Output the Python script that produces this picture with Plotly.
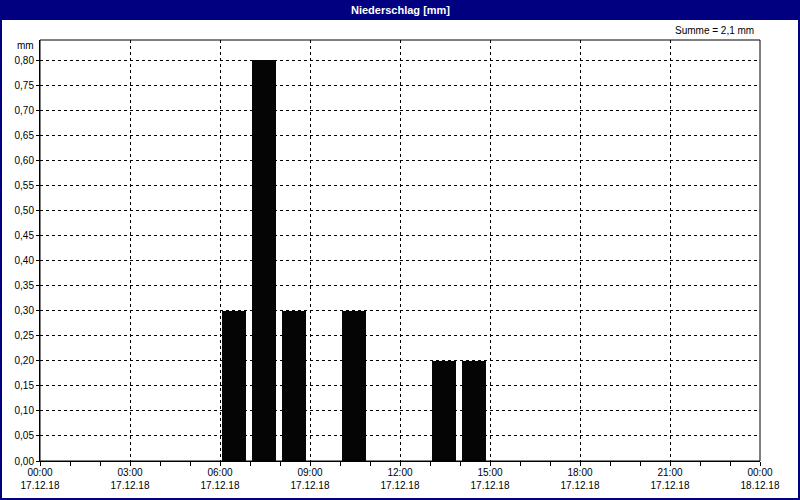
import plotly.graph_objects as go

# Data
bar_times = ["2018-12-17 06:00", "2018-12-17 07:00", "2018-12-17 08:00",
             "2018-12-17 10:00", "2018-12-17 13:00", "2018-12-17 14:00"]
precip_mm = [0.30, 0.80, 0.30, 0.30, 0.20, 0.20]
tick_times = ["2018-12-17 00:00", "2018-12-17 03:00", "2018-12-17 06:00",
              "2018-12-17 09:00", "2018-12-17 12:00", "2018-12-17 15:00",
              "2018-12-17 18:00", "2018-12-17 21:00", "2018-12-18 00:00"]
tick_labels = ["00:00<br>17.12.18", "03:00<br>17.12.18", "06:00<br>17.12.18",
               "09:00<br>17.12.18", "12:00<br>17.12.18", "15:00<br>17.12.18",
               "18:00<br>17.12.18", "21:00<br>17.12.18", "00:00<br>18.12.18"]
title_text = "Niederschlag [mm]"
unit_text = "mm"

HOUR_MS = 3600 * 1000
NAVY = "#000080"
BG = "#FFFFFF"
FONT = "Liberation Sans"
DASH = "3px,3px"

total = sum(precip_mm)
sum_text = "Summe = " + ("%.1f" % total).replace(".", ",") + " mm"

fig = go.Figure()
fig.add_trace(go.Bar(
    x=bar_times, y=precip_mm,
    width=0.8 * HOUR_MS, offset=(2 / 30) * HOUR_MS,
    marker=dict(color="#050505", line=dict(width=0)),
))

W, H = 800, 500
ml, mr, mt, mb = 40, 40, 40, 39
pw, ph = W - ml - mr, H - mt - mb

def px_x(p):
    return (p - ml) / pw

def px_y(p):
    return 1 - (p - mt) / ph

shapes = [
    dict(type="rect", xref="paper", yref="paper", x0=px_x(0), x1=px_x(800),
         y0=px_y(20), y1=px_y(0), fillcolor=NAVY, line=dict(width=0), layer="above"),
    dict(type="rect", xref="paper", yref="paper", x0=px_x(1), x1=px_x(799),
         y0=px_y(499), y1=px_y(1), fillcolor="rgba(0,0,0,0)",
         line=dict(color=NAVY, width=2), layer="above"),
    dict(type="rect", xref="paper", yref="paper", x0=0, x1=1, y0=0, y1=1,
         fillcolor="rgba(0,0,0,0)", line=dict(color="black", width=1), layer="above"),
]

annotations = [
    dict(text="<b>" + title_text + "</b>", xref="paper", yref="paper",
         x=px_x(400), y=px_y(10), showarrow=False, xanchor="center", yanchor="middle",
         font=dict(color="white", size=11, family=FONT)),
    dict(text=sum_text, xref="paper", yref="paper", x=px_x(756), y=px_y(31),
         showarrow=False, xanchor="right", yanchor="middle",
         font=dict(color="black", size=10, family=FONT)),
    dict(text=unit_text, xref="paper", yref="paper", x=px_x(36), y=px_y(45),
         showarrow=False, xanchor="right", yanchor="middle",
         font=dict(color="black", size=10, family=FONT)),
]

fig.update_layout(
    width=W, height=H,
    margin=dict(l=ml, r=mr, t=mt, b=mb, pad=0),
    paper_bgcolor=BG, plot_bgcolor=BG,
    separators=",.",
    showlegend=False,
    bargap=0,
    font=dict(family=FONT, size=10, color="black"),
    shapes=shapes,
    annotations=annotations,
    xaxis=dict(
        type="date", automargin=False,
        range=["2018-12-17 00:00", "2018-12-18 00:00"],
        tickvals=tick_times, ticktext=tick_labels,
        showgrid=True, gridcolor="black", gridwidth=1, griddash=DASH,
        ticks="outside", ticklen=4, tickcolor="black", ticklabelstandoff=-2,
        minor=dict(dtick=HOUR_MS, ticks="outside", ticklen=4, tickcolor="black",
                   showgrid=False),
        showline=True, linecolor="black", linewidth=1,
        zeroline=False, fixedrange=True,
    ),
    yaxis=dict(
        range=[0, 0.84], automargin=False,
        dtick=0.05, tick0=0, tickformat=".2f",
        showgrid=True, gridcolor="black", gridwidth=1, griddash=DASH,
        ticks="outside", ticklen=3, tickcolor="black",
        showline=True, linecolor="black", linewidth=1,
        zeroline=False, fixedrange=True,
    ),
)

fig.write_html("out.html", config=dict(displayModeBar=False),
               post_script="document.body.style.margin='0';document.body.style.overflow='hidden';")
